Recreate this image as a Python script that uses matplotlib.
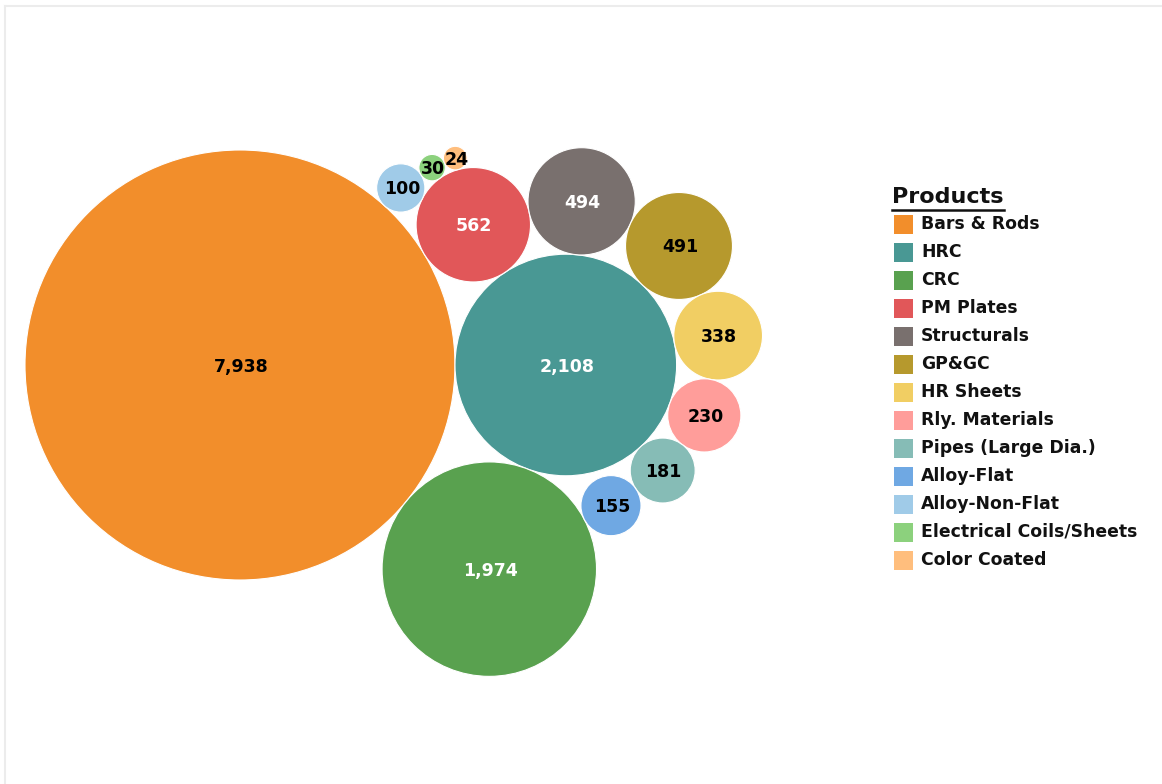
import numpy as np
import matplotlib
matplotlib.use("Agg")
import matplotlib.pyplot as plt
from matplotlib.patches import Circle, Rectangle
from matplotlib.lines import Line2D

# ---- data ----
products = ["Bars & Rods", "HRC", "CRC", "PM Plates", "Structurals", "GP&GC",
            "HR Sheets", "Rly. Materials", "Pipes (Large Dia.)", "Alloy-Flat",
            "Alloy-Non-Flat", "Electrical Coils/Sheets", "Color Coated"]
values = [7938, 2108, 1974, 562, 494, 491, 338, 230, 181, 155, 100, 30, 24]
colors = ["#F28E2B", "#499894", "#59A14F", "#E15759", "#79706E", "#B6992D",
          "#F1CE63", "#FF9D9A", "#86BCB6", "#6FA8E3", "#A0CBE8", "#8CD17D", "#FFBE7D"]
label_colors = ["black", "white", "white", "white", "white", "black",
                "black", "black", "black", "black", "black", "black", "black"]

# ---- packing layout: each bubble tangent to two earlier bubbles ----
# (index_a, index_b, side)
tangency = [None, None, (0, 1, -1), (0, 1, 1), (1, 3, -1), (1, 4, -1),
            (1, 5, -1), (1, 6, -1), (1, 7, -1), (2, 8, -1), (0, 3, 1),
            (10, 3, 1), (11, 3, 1)]

W, H = 1162, 784
scale = 215.0 / np.sqrt(max(values))
radii = [scale * np.sqrt(v) for v in values]

centers = [None] * len(values)
centers[0] = np.array([240.0, -365.0])
centers[1] = centers[0] + np.array([radii[0] + radii[1], 0.0])
for i in range(2, len(values)):
    a, b, s = tangency[i]
    A, B = centers[a], centers[b]
    da, db = radii[a] + radii[i], radii[b] + radii[i]
    d = np.linalg.norm(B - A)
    u = (B - A) / d
    n = np.array([-u[1], u[0]])
    x = (da**2 - db**2 + d**2) / (2 * d)
    h = np.sqrt(max(da**2 - x**2, 0))
    centers[i] = A + x * u + s * h * n

fig = plt.figure(figsize=(W / 100, H / 100), dpi=100)
ax = fig.add_axes([0, 0, 1, 1])
ax.set_xlim(0, W)
ax.set_ylim(-H, 0)
ax.set_aspect("equal")
ax.axis("off")

# faint frame
ax.add_line(Line2D([5, 5], [-6, -H], color="#ececec", lw=1.5))
ax.add_line(Line2D([5, W], [-6, -6], color="#ececec", lw=1.5))

for i, v in enumerate(values):
    c = centers[i]
    ax.add_patch(Circle(c, radii[i], facecolor=colors[i], edgecolor="white", lw=0.8))
    ax.text(c[0] + 1, c[1] - 1.5, f"{v:,}", ha="center", va="center", fontsize=12.5,
            fontweight="bold", color=label_colors[i], family="DejaVu Sans")

# legend
ax.text(892, -197, "Products", ha="left", va="center", fontsize=16,
        fontweight="bold", color="#111111")
ax.add_line(Line2D([892, 1004], [-210, -210], color="#111111", lw=1.8))
for i, p in enumerate(products):
    y = -(224 + 28 * i)
    ax.add_patch(Rectangle((894, y - 9.5), 19, 19, facecolor=colors[i], edgecolor="none"))
    ax.text(921, y, p, ha="left", va="center", fontsize=12.4, fontweight="bold",
            color="#111111")

fig.savefig("out.png", dpi=100)
